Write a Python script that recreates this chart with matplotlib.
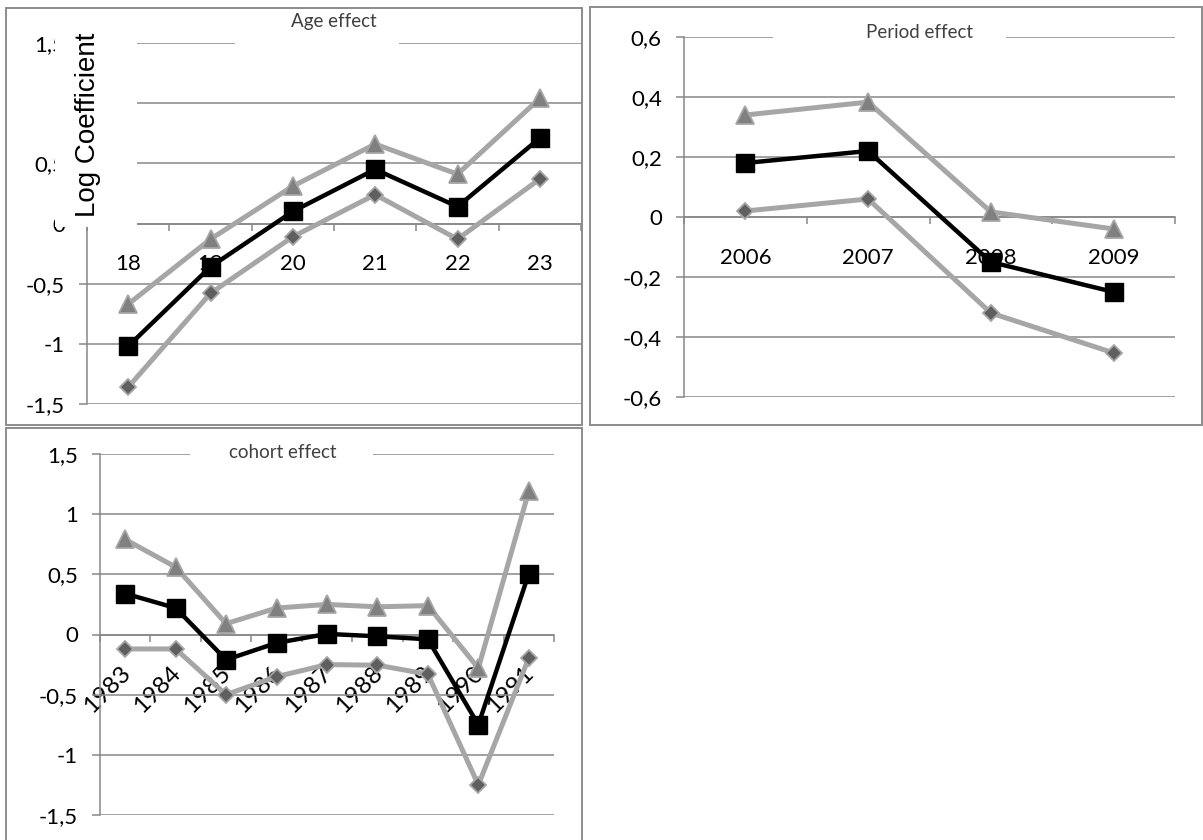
import matplotlib.pyplot as plt
from matplotlib.patches import Rectangle
from matplotlib.transforms import ScaledTranslation
import numpy as np

plt.rcParams['font.family'] = ['Lato', 'DejaVu Sans']

# age panel
age_cats = ['18', '19', '20', '21', '22', '23']
age_upper = [-0.67, -0.13, 0.31, 0.66, 0.41, 1.04]
age_mid = [-1.02, -0.36, 0.10, 0.45, 0.14, 0.71]
age_lower = [-1.36, -0.58, -0.11, 0.24, -0.13, 0.37]
age_yticks = [-1.5, -1.0, -0.5, 0.0, 0.5, 1.0, 1.5]
age_ylabels = ['-1,5', '-1', '-0,5', '0', '0,5', '1', '1,5']

# period panel
per_cats = ['2006', '2007', '2008', '2009']
per_upper = [0.34, 0.383, 0.017, -0.04]
per_mid = [0.18, 0.22, -0.15, -0.25]
per_lower = [0.02, 0.06, -0.32, -0.453]
per_yticks = [-0.6, -0.4, -0.2, 0.0, 0.2, 0.4, 0.6]
per_ylabels = ['-0,6', '-0,4', '-0,2', '0', '0,2', '0,4', '0,6']

# cohort panel
coh_cats = ['1983', '1984', '1985', '1986', '1987', '1988', '1989', '1990', '1991']
coh_upper = [0.79, 0.56, 0.09, 0.22, 0.25, 0.23, 0.24, -0.28, 1.19]
coh_mid = [0.34, 0.22, -0.21, -0.07, 0.005, -0.015, -0.04, -0.75, 0.505]
coh_lower = [-0.12, -0.12, -0.50, -0.35, -0.25, -0.255, -0.33, -1.25, -0.195]
coh_yticks = age_yticks
coh_ylabels = age_ylabels

W, H = 1203, 840
GRID = '#878787'
LGRAY = '#a6a6a6'

fig = plt.figure(figsize=(W / 100, H / 100), dpi=100)


def px_axes(x0, x1, ytop, ybot):
    return fig.add_axes([x0 / W, 1 - ybot / H, (x1 - x0) / W, (ybot - ytop) / H])


def fig_rect(x0, y0, x1, y1, **kw):
    r = Rectangle((x0 / W, 1 - y1 / H), (x1 - x0) / W, (y1 - y0) / H,
                  transform=fig.transFigure, **kw)
    fig.add_artist(r)


def panel(ax, cats, upper, mid, lower, yticks, ylabels):
    x = np.arange(len(cats))
    ax.plot(x, upper, color=LGRAY, lw=3.6, marker='^', ms=12.5,
            mfc='#808080', mec=LGRAY, mew=1.3, zorder=3, clip_on=False)
    ax.plot(x, lower, color=LGRAY, lw=3.6, marker='D', ms=8.5,
            mfc='#5f5f5f', mec=LGRAY, mew=1.3, zorder=3, clip_on=False)
    ax.plot(x, mid, color='black', lw=3.2, marker='s', ms=12.5,
            mfc='black', mec='black', zorder=4, clip_on=False)
    ax.set_xlim(-0.5, len(cats) - 0.5)
    ax.set_ylim(yticks[0], yticks[-1])
    ax.set_yticks(yticks)
    ax.set_yticklabels(ylabels)
    ax.yaxis.grid(True, color=GRID, lw=1.1)
    ax.set_axisbelow(True)
    for s in ['top', 'right']:
        ax.spines[s].set_visible(False)
    ax.spines['left'].set_color(GRID)
    ax.spines['left'].set_linewidth(1.1)
    ax.spines['bottom'].set_position(('data', 0))
    ax.spines['bottom'].set_color(GRID)
    ax.spines['bottom'].set_linewidth(1.1)
    ax.set_xticks(x)
    ax.set_xticklabels(cats)
    ax.set_xticks(np.arange(len(cats) + 1) - 0.5, minor=True)
    ax.tick_params(axis='x', which='major', length=0, labelsize=16, pad=22)
    ax.tick_params(axis='x', which='minor', length=5, width=1.1, color=GRID,
                   direction='out')
    ax.tick_params(axis='y', length=6, width=1.1, color=GRID,
                   labelsize=16, pad=10)
    ax.patch.set_alpha(0)


ax_age = px_axes(87, 581, 43, 404)
panel(ax_age, age_cats, age_upper, age_mid, age_lower, age_yticks, age_ylabels)

ax_per = px_axes(684, 1175, 37, 397)
panel(ax_per, per_cats, per_upper, per_mid, per_lower, per_yticks, per_ylabels)

ax_coh = px_axes(100, 554, 454, 815)
panel(ax_coh, coh_cats, coh_upper, coh_mid, coh_lower, coh_yticks, coh_ylabels)
ax_coh.tick_params(axis='x', which='major', pad=20, labelsize=17.5)
shift = ScaledTranslation(9 / 100, 0, fig.dpi_scale_trans)
for lab in ax_coh.get_xticklabels():
    lab.set_rotation(45)
    lab.set_ha('right')
    lab.set_transform(lab.get_transform() + shift)

# white boxes behind the titles and the y label
fig_rect(235, 30, 399, 56, facecolor='white', edgecolor='none', zorder=5)
fig_rect(773, 22, 1006, 50, facecolor='white', edgecolor='none', zorder=5)
fig_rect(190, 440, 373, 466, facecolor='white', edgecolor='none', zorder=5)
fig_rect(55, 30, 137, 227, facecolor='white', edgecolor='none', zorder=5)

title_kw = dict(ha='center', va='center', fontsize=13.5, color='#404040', zorder=7)
fig.text(334 / W, 1 - 22 / H, 'Age effect', **title_kw)
fig.text(920 / W, 1 - 33 / H, 'Period effect', **title_kw)
fig.text(283 / W, 1 - 453 / H, 'cohort effect', **title_kw)
fig.text(88 / W, 1 - 125 / H, 'Log Coefficient', rotation=90, ha='center',
         va='center', fontsize=20, family='Liberation Sans', color='black',
         zorder=7)

# panel frames
frame = dict(fill=False, edgecolor='#8c8c8c', lw=1.4, zorder=8)
fig_rect(6, 8, 582, 425, **frame)
fig_rect(590, 7, 1202, 425, **frame)
fig_rect(6, 428, 582, 845, **frame)

fig.savefig('out.png', dpi=100)
